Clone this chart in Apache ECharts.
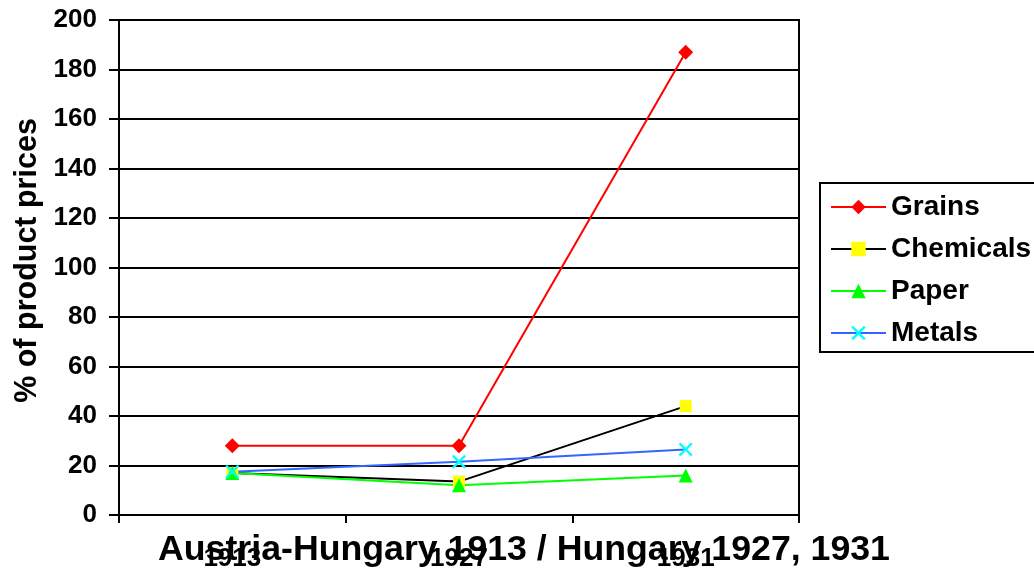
<!DOCTYPE html>
<html>
<head>
<meta charset="utf-8">
<script src="https://cdn.jsdelivr.net/npm/echarts@6/dist/echarts.min.js"></script>
<style>
html,body{margin:0;padding:0;background:#fff;}
#main{width:1034px;height:568px;}
</style>
</head>
<body>
<div id="main"></div>
<script>
const categories = ['1913', '1927', '1931'];
const grains = [28, 28, 187];
const chemicals = [17, 13.5, 44];
const paper = [17, 12, 16];
const metals = [17.5, 21.5, 26.5];
const yTicks = { min: 0, max: 200, interval: 20 };

const FONT = '"Liberation Sans", Arial, sans-serif';
const xPath = 'path://M0,1.2L1.2,0L5,3.8L8.8,0L10,1.2L6.2,5L10,8.8L8.8,10L5,6.2L1.2,10L0,8.8L3.8,5Z';

const chart = echarts.init(document.getElementById('main'));
chart.setOption({
  animation: false,
  backgroundColor: '#fff',
  title: {
    text: 'Austria-Hungary 1913 / Hungary 1927, 1931',
    left: 519,
    top: 527,
    textAlign: 'center',
    textStyle: { fontFamily: FONT, fontWeight: 'bold', fontSize: 35.7, color: '#000' }
  },
  grid: {
    left: 119, top: 20, width: 680, height: 495,
    outerBoundsMode: 'none',
    containLabel: false,
    show: true, borderColor: '#000', borderWidth: 2, backgroundColor: 'transparent'
  },
  legend: {
    orient: 'vertical',
    left: 820, top: 183,
    padding: [10, 12, 5, 10],
    borderColor: '#000', borderWidth: 2,
    backgroundColor: '#fff',
    itemWidth: 55, itemHeight: 18, itemGap: 14,
    textStyle: { fontFamily: FONT, fontWeight: 'bold', fontSize: 28, color: '#000' },
    data: ['Grains', 'Chemicals', 'Paper', 'Metals']
  },
  xAxis: {
    type: 'category',
    data: categories,
    boundaryGap: true,
    axisLine: { lineStyle: { color: '#000', width: 2 } },
    axisTick: { show: true, length: 8, interval: 0, lineStyle: { color: '#000', width: 2 } },
    axisLabel: { margin: 31, fontFamily: FONT, fontWeight: 'bold', fontSize: 26, color: '#000' },
    splitLine: { show: false }
  },
  yAxis: {
    type: 'value',
    min: yTicks.min, max: yTicks.max, interval: yTicks.interval,
    name: '% of product prices',
    nameLocation: 'middle',
    nameRotate: 90,
    nameGap: 75,
    nameTextStyle: { fontFamily: FONT, fontWeight: 'bold', fontSize: 30.5, color: '#000', padding: [0, 0, 0, 14] },
    axisLine: { show: true, lineStyle: { color: '#000', width: 2 } },
    axisTick: { show: true, length: 10, lineStyle: { color: '#000', width: 2 } },
    axisLabel: { margin: 22, fontFamily: FONT, fontWeight: 'bold', fontSize: 26, color: '#000' },
    splitLine: { show: true, lineStyle: { color: '#000', width: 2 } }
  },
  series: [
    {
      name: 'Grains', type: 'line', data: grains,
      symbol: 'diamond', symbolSize: 15,
      lineStyle: { color: '#ff0000', width: 2 },
      itemStyle: { color: '#ff0000' }
    },
    {
      name: 'Chemicals', type: 'line', data: chemicals,
      symbol: 'rect', symbolSize: 12,
      lineStyle: { color: '#000000', width: 2 },
      itemStyle: { color: '#ffff00' }
    },
    {
      name: 'Paper', type: 'line', data: paper,
      symbol: 'triangle', symbolSize: 14,
      lineStyle: { color: '#00ff00', width: 2 },
      itemStyle: { color: '#00ff00' }
    },
    {
      name: 'Metals', type: 'line', data: metals,
      symbol: xPath, symbolSize: 14,
      lineStyle: { color: '#3366ff', width: 2 },
      itemStyle: { color: '#00ffff' }
    }
  ]
});
</script>
</body>
</html>
